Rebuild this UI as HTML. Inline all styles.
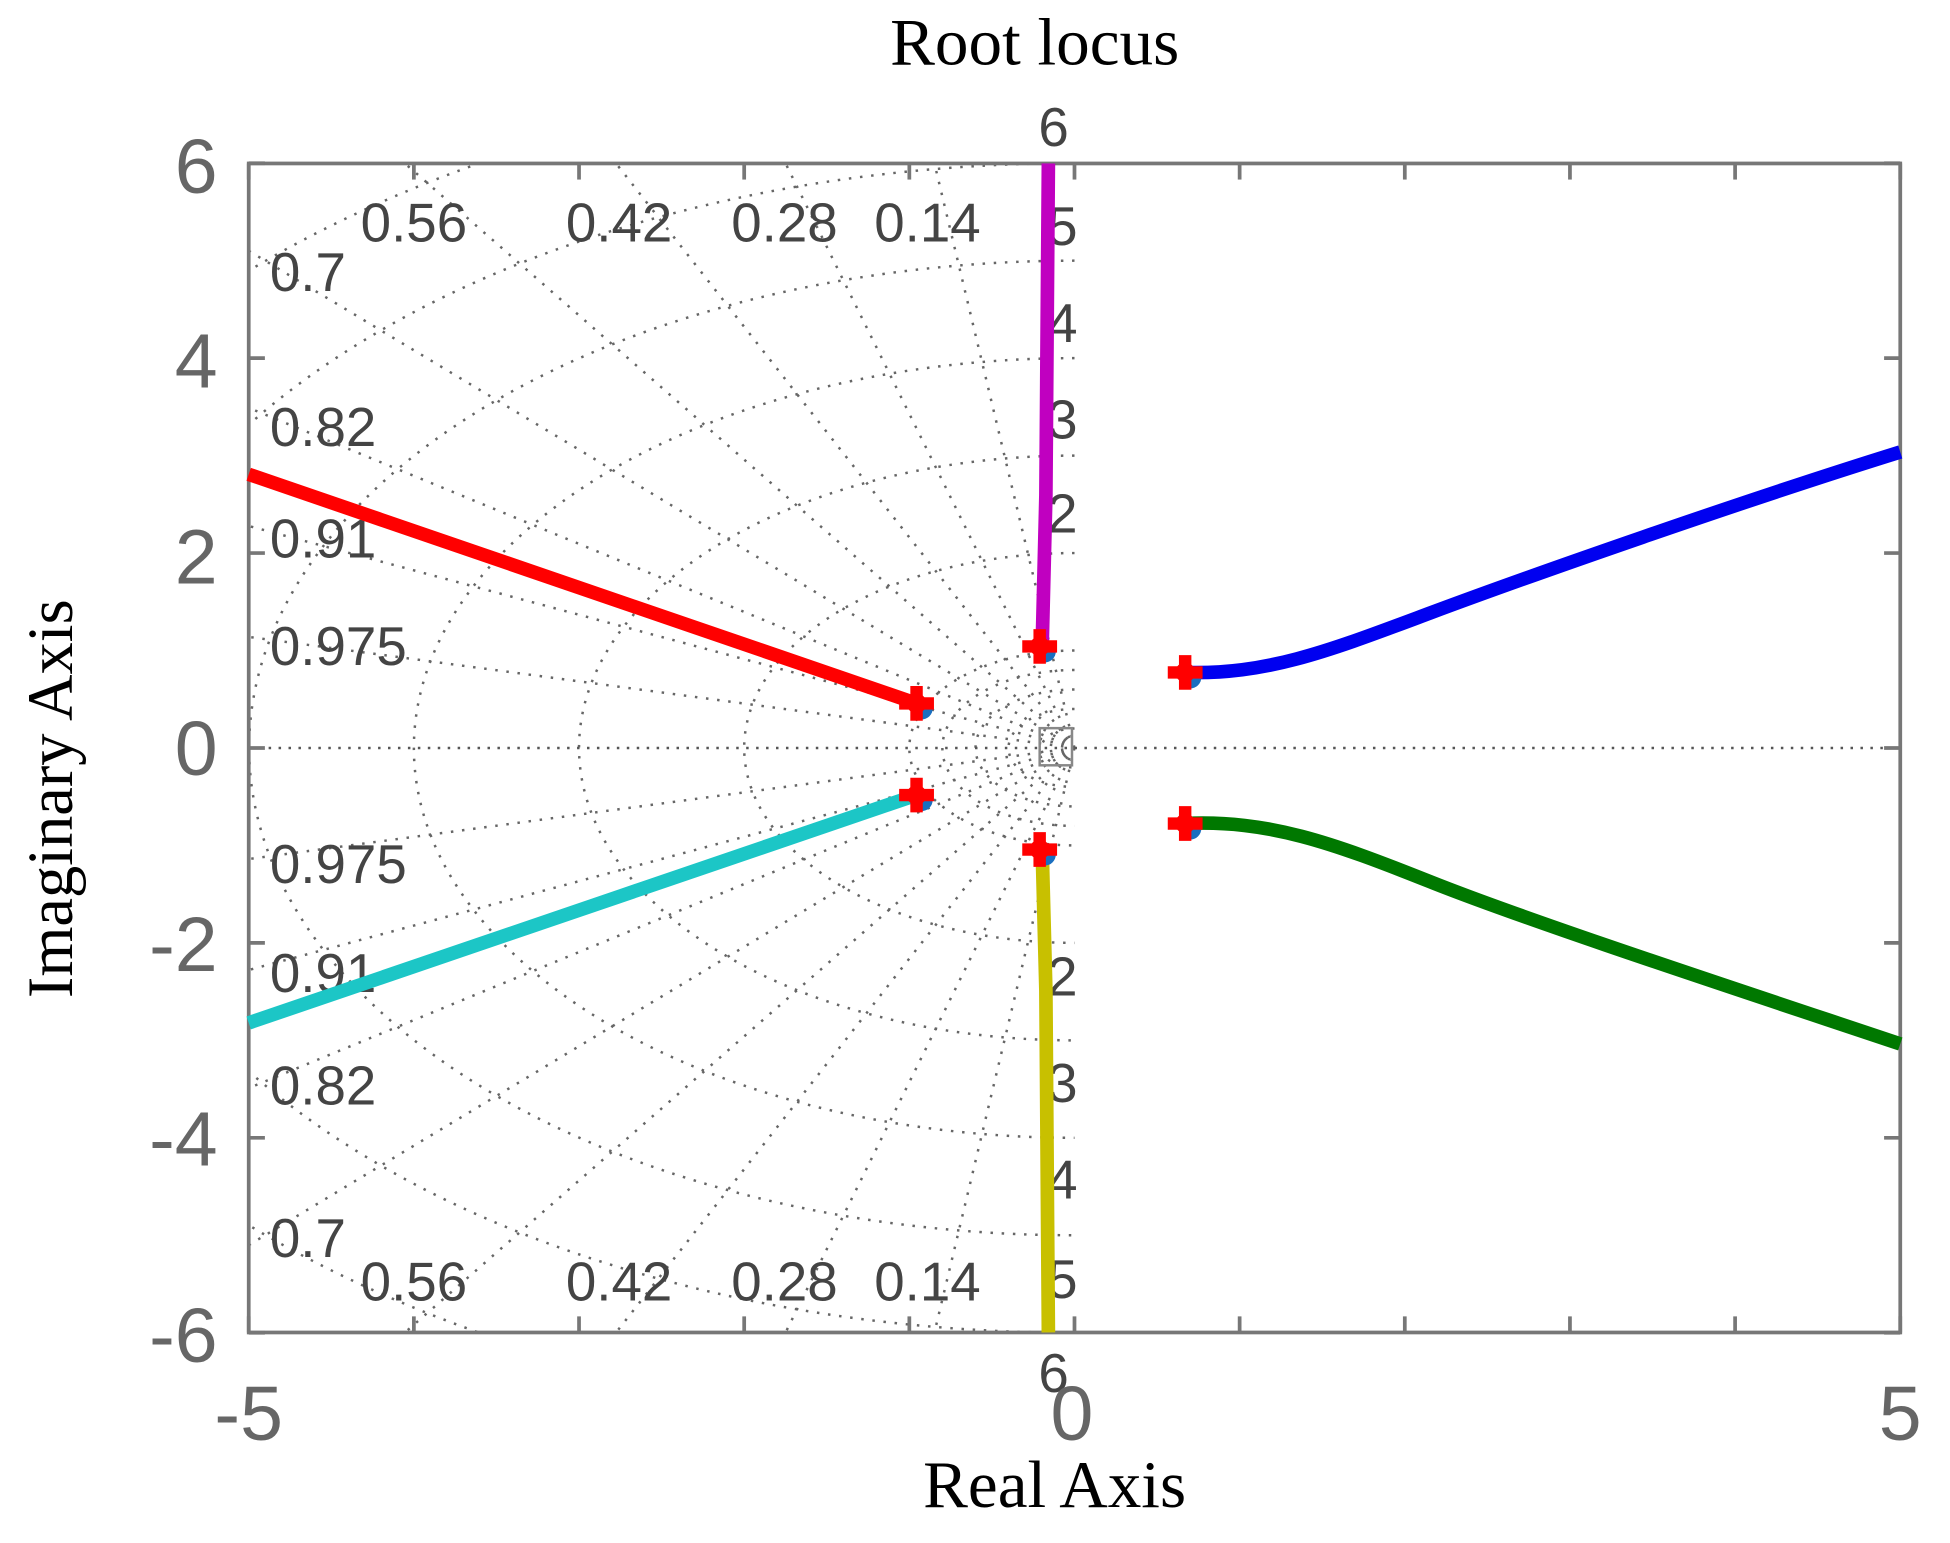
<!DOCTYPE html>
<html><head><meta charset="utf-8"><style>
html,body{margin:0;padding:0;background:#fff;overflow:hidden;width:1950px;height:1543px;}
svg{display:block;}
</style></head><body>
<svg id="s" width="1950" height="1543" viewBox="0 0 1568 1246" preserveAspectRatio="none" xmlns="http://www.w3.org/2000/svg">
<defs><clipPath id="c"><rect x="200" y="132" width="1328" height="944"/></clipPath></defs>
<rect width="1568" height="1246" fill="#fff"/>
<g id="grid" clip-path="url(#c)" fill="none" stroke="#666" stroke-width="2" stroke-dasharray="2 7"></g>
<line x1="200" y1="604" x2="1528" y2="604" stroke="#555" stroke-width="2" stroke-dasharray="2 6"/>
<rect x="836" y="588" width="26" height="30" fill="none" stroke="#888" stroke-width="2"/>
<g font-family="Liberation Sans, sans-serif" font-size="44" fill="#444">
<text x="290" y="195">0.56</text><text x="455" y="195">0.42</text><text x="588" y="195">0.28</text><text x="703" y="195">0.14</text>
<text x="217" y="235">0.7</text><text x="217" y="360">0.82</text><text x="217" y="450">0.91</text><text x="217" y="537">0.975</text>
<text x="217" y="713">0.975</text><text x="217" y="801">0.91</text><text x="217" y="892">0.82</text><text x="217" y="1015">0.7</text>
<text x="290" y="1050">0.56</text><text x="455" y="1050">0.42</text><text x="588" y="1050">0.28</text><text x="703" y="1050">0.14</text>
<text x="835" y="118">6</text><text x="842" y="198">5</text><text x="842" y="276">4</text><text x="842" y="354">3</text><text x="842" y="430">2</text>
<text x="842" y="804">2</text><text x="842" y="890">3</text><text x="842" y="968">4</text><text x="842" y="1048">5</text><text x="835" y="1124">6</text>
</g>
<rect x="200" y="132" width="1328" height="944" fill="none" stroke="#777" stroke-width="3"/>
<g id="ticks" stroke="#777" stroke-width="3"></g>
<g fill="none" stroke-linecap="butt" stroke-width="11">
<line x1="200" y1="383" x2="737" y2="568" stroke="#f00"/>
<line x1="200" y1="826" x2="737" y2="642" stroke="#1cc6c6"/>
<path d="M843 132 L841 400 L838 522" stroke="#c000c0"/>
<path d="M838 686 L841 800 L843 1076" stroke="#c8c000"/>
<path d="M953 543 C1020 545 1070 525 1150 495 S1400 405 1528 365" stroke="#0000f0"/>
<path d="M953 665 C1020 662 1070 680 1150 712 S1400 800 1528 843" stroke="#007800"/>
</g>
<g id="mk"></g>
<g font-family="Liberation Sans, sans-serif" font-size="62" fill="#666" text-anchor="end">
<text x="175" y="156">6</text><text x="175" y="313">4</text><text x="175" y="471">2</text><text x="175" y="626">0</text>
<text x="175" y="784">-2</text><text x="175" y="941">-4</text><text x="175" y="1100">-6</text>
</g>
<g font-family="Liberation Sans, sans-serif" font-size="62" fill="#666" text-anchor="middle">
<text x="200" y="1163">-5</text><text x="862" y="1163">0</text><text x="1528" y="1163">5</text>
</g>
<g font-family="Liberation Serif, serif" fill="#000" text-anchor="middle">
<text x="832" y="52" font-size="54">Root locus</text>
<text x="848" y="1217" font-size="54">Real Axis</text>
<text transform="translate(58,645) rotate(-90)" font-size="52">Imaginary Axis</text>
</g>
</svg>
<script>
var NS="http://www.w3.org/2000/svg",g=document.getElementById("grid");
var ox=864,oy=604,sx=132.8,sy=78.7;
function p(d){var e=document.createElementNS(NS,"path");e.setAttribute("d",d);g.appendChild(e);}
[0.14,0.28,0.42,0.56,0.7,0.82,0.91,0.975].forEach(function(z){var w=Math.sqrt(1-z*z),L=20;
p("M"+ox+" "+oy+" L"+(ox-z*L*sx)+" "+(oy-w*L*sy));p("M"+ox+" "+oy+" L"+(ox-z*L*sx)+" "+(oy+w*L*sy));});
for(var w=1;w<=8;w++){p("M"+ox+" "+(oy-w*sy)+" A"+(w*sx)+" "+(w*sy)+" 0 0 0 "+ox+" "+(oy+w*sy));}
for(var w=0.2;w<1;w+=0.2){p("M"+ox+" "+(oy-w*sy)+" A"+(w*sx)+" "+(w*sy)+" 0 0 0 "+ox+" "+(oy+w*sy));}
var t=document.getElementById("ticks"),s="";
[-5,-4,-3,-2,-1,0,1,2,3,4,5].forEach(function(v){var x=ox+v*sx;s+='<line x1="'+x+'" y1="1076" x2="'+x+'" y2="1063"/><line x1="'+x+'" y1="132" x2="'+x+'" y2="145"/>';});
[-6,-4,-2,0,2,4,6].forEach(function(v){var y=oy-v*sy;s+='<line x1="200" y1="'+y+'" x2="213" y2="'+y+'"/><line x1="1528" y1="'+y+'" x2="1515" y2="'+y+'"/>';});
t.innerHTML=s;
var m="";[[737,568],[737,642],[836,522],[836,686],[953,543],[953,665]].forEach(function(q){
m+='<circle cx="'+(q[0]+4)+'" cy="'+(q[1]+4)+'" r="9" fill="#1a6fc0"/><path d="M'+(q[0]-14)+' '+q[1]+' h28 M'+q[0]+' '+(q[1]-14)+' v28" stroke="#f00" stroke-width="10"/><circle cx="'+q[0]+'" cy="'+q[1]+'" r="8" fill="#f00"/>';});
document.getElementById("mk").innerHTML=m;
</script>
</body></html>
